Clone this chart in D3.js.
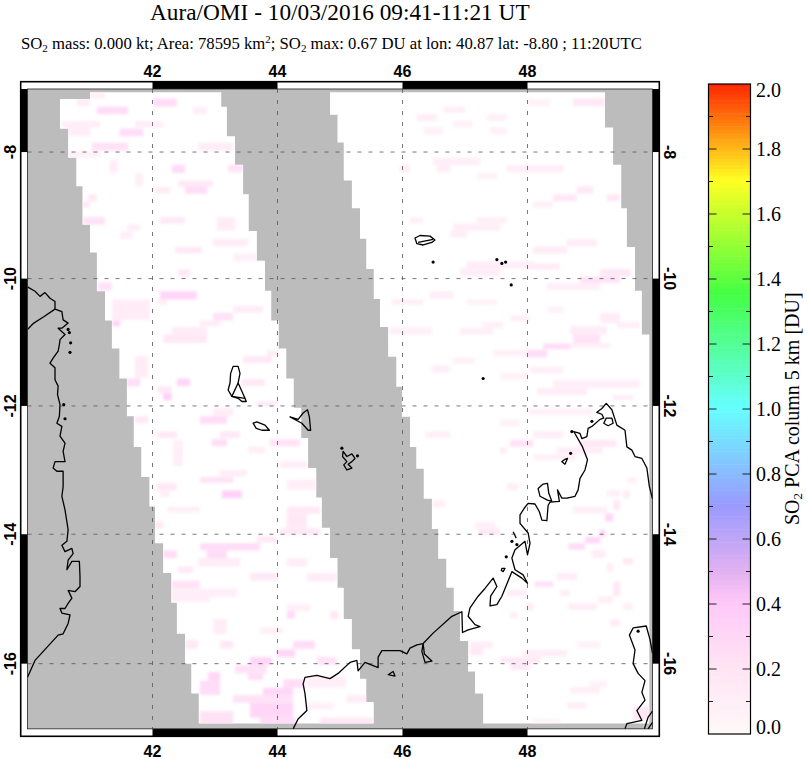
<!DOCTYPE html>
<html>
<head>
<meta charset="utf-8">
<script src="https://d3js.org/d3.v7.min.js"></script>
<style>
  body { margin: 0; background: #fff; }
  svg { display: block; }
  text { fill: #000; }
  .serif { font-family: "Liberation Serif", serif; }
  .sans { font-family: "Liberation Sans", sans-serif; font-weight: bold; font-size: 16px; }
</style>
</head>
<body>
<svg id="chart" width="807" height="759"></svg>
<script>
// Map ticks
var lonTicks = [42, 44, 46, 48];
var latTicks = [-8, -10, -12, -14, -16];
var lonBands = [[42, 44], [46, 48]];
var latBands = [[-7, -8], [-10, -12], [-14, -16]];

// Colorbar
var barTicks = [0, 0.2, 0.4, 0.6, 0.8, 1.0, 1.2, 1.4, 1.6, 1.8, 2.0];
var barMinorTicks = [0.1, 0.3, 0.5, 0.7, 0.9, 1.1, 1.3, 1.5, 1.7, 1.9];
var colorStops = [0, 0.2, 0.4, 0.5, 0.7, 1.0, 1.35, 1.7, 2.0];
var colorValues = ["#fff8f8", "#ffe4f4", "#ffc8f8", "#e0b0f0", "#9a9aff", "#66ffff", "#44ff44", "#ffff22", "#ff2200"];

// Swath edges: [lon of the step, lat where the step ends]
var swathTopLat = -7.05;
var swathALeft = [[41.00, -7.16], [40.52, -7.63], [40.65, -8.09], [40.78, -8.54], [40.88, -9.15], [41.00, -9.59], [41.11, -10.20], [41.24, -10.66], [41.35, -11.10], [41.47, -11.57], [41.59, -12.16], [41.70, -12.64], [41.82, -13.11], [41.95, -13.57], [42.04, -14.14], [42.17, -14.60], [42.30, -15.06], [42.39, -15.54], [42.52, -16.00], [42.62, -16.46], [42.74, -16.92]];
var swathARight = [[43.10, -7.28], [43.19, -7.75], [43.32, -8.20], [43.45, -8.67], [43.54, -9.25], [43.67, -9.72], [43.80, -10.19], [43.90, -10.66], [44.02, -11.10], [44.14, -11.57], [44.26, -12.03], [44.38, -12.50], [44.49, -12.97], [44.62, -13.43], [44.71, -13.90], [44.84, -14.37], [44.96, -14.83], [45.06, -15.31], [45.19, -15.78], [45.32, -16.23], [45.42, -16.59], [45.54, -16.92]];
var swathBLeft = [[44.84, -7.41], [44.96, -7.85], [45.06, -8.45], [45.19, -8.89], [45.32, -9.37], [45.42, -9.85], [45.54, -10.32], [45.64, -10.76], [45.77, -11.23], [45.90, -11.70], [45.99, -12.17], [46.12, -12.64], [46.22, -12.98], [46.34, -13.45], [46.47, -13.92], [46.57, -14.38], [46.70, -14.83], [46.82, -15.19], [46.92, -15.65], [47.05, -16.12], [47.16, -16.46], [47.29, -16.92]];
var swathBRight = [[49.24, -7.61], [49.37, -8.20], [49.50, -8.89], [49.59, -9.50], [49.72, -10.19], [49.83, -10.88], [49.95, -16.92]];

// SO2 pixels: [lonW, lonE, latN, latS, DU]
var cellsA = [
  [41.11, 41.61, -7.28, -7.40, 0.3], [40.79, 41.00, -7.15, -7.27, 0.15], [41.00, 41.24, -7.05, -7.15, 0.12], [42.01, 42.39, -7.15, -7.28, 0.3],
  [42.65, 42.87, -7.28, -7.40, 0.12], [40.55, 41.16, -7.51, -7.61, 0.15], [40.65, 41.00, -7.61, -7.74, 0.15], [41.47, 41.85, -7.63, -7.75, 0.3],
  [41.72, 42.17, -7.51, -7.61, 0.15], [41.03, 41.61, -7.85, -7.98, 0.25], [42.73, 43.29, -7.85, -7.98, 0.15], [41.32, 41.45, -8.12, -8.33, 0.15],
  [40.65, 41.16, -7.99, -8.09, 0.1], [42.31, 42.52, -8.20, -8.33, 0.3], [43.21, 43.45, -8.20, -8.32, 0.25], [42.41, 42.97, -8.45, -8.55, 0.2],
  [42.52, 42.87, -8.55, -8.66, 0.3], [42.04, 42.28, -8.55, -8.66, 0.15], [41.72, 41.85, -8.33, -8.54, 0.1], [40.97, 41.11, -8.67, -8.78, 0.2],
  [40.88, 41.00, -8.78, -8.88, 0.2], [40.89, 41.24, -9.03, -9.15, 0.25], [42.12, 42.52, -9.03, -9.13, 0.2], [43.03, 43.32, -9.03, -9.24, 0.15],
  [41.59, 41.80, -9.15, -9.24, 0.15], [41.47, 41.69, -9.26, -9.37, 0.12], [42.97, 43.53, -9.37, -9.49, 0.15], [42.36, 42.79, -9.50, -9.60, 0.2],
  [42.41, 42.60, -9.85, -9.97, 0.2], [43.29, 43.77, -9.60, -9.73, 0.1], [41.13, 41.35, -10.06, -10.19, 0.25],
  [42.12, 42.71, -10.20, -10.33, 0.35], [42.07, 42.23, -10.33, -10.41, 0.15], [41.35, 41.96, -10.33, -10.65, 0.15], [42.97, 43.29, -10.54, -10.66, 0.25],
  [43.29, 43.77, -10.43, -10.54, 0.15], [42.75, 43.08, -10.66, -10.75, 0.15], [41.36, 41.48, -10.66, -10.75, 0.4], [42.31, 42.87, -10.76, -10.88, 0.15],
  [42.17, 42.87, -10.88, -11.01, 0.2], [43.83, 44.01, -11.12, -11.22, 0.15], [43.45, 43.91, -11.22, -11.33, 0.2], [41.72, 41.93, -11.22, -11.56, 0.15],
  [41.59, 41.80, -11.57, -11.69, 0.3], [42.39, 42.60, -11.57, -11.69, 0.35], [42.07, 42.31, -11.69, -11.80, 0.2], [42.17, 42.31, -11.80, -11.91, 0.4],
  [43.43, 43.80, -11.58, -11.69, 0.2], [43.67, 43.99, -11.93, -12.00, 0.2], [41.72, 41.93, -12.16, -12.27, 0.2], [42.76, 43.19, -12.16, -12.28, 0.3],
  [42.97, 43.29, -12.03, -12.16, 0.15], [42.07, 42.39, -12.40, -12.50, 0.2], [43.08, 43.40, -12.40, -12.50, 0.2], [42.95, 43.19, -12.52, -12.63, 0.3],
  [43.88, 44.36, -12.52, -12.63, 0.25], [44.04, 44.47, -12.87, -12.97, 0.15], [43.53, 43.80, -12.63, -12.74, 0.12], [42.33, 42.49, -12.53, -12.94, 0.12],
  [42.76, 43.29, -13.11, -13.20, 0.25], [43.08, 43.51, -13.00, -13.10, 0.15], [42.07, 42.39, -13.20, -13.32, 0.2], [42.12, 42.28, -13.32, -13.42, 0.12],
  [43.11, 43.43, -13.32, -13.44, 0.4], [44.15, 44.63, -13.15, -13.31, 0.12], [44.15, 44.68, -13.57, -13.68, 0.2], [44.15, 44.47, -13.68, -13.91, 0.2],
  [42.23, 42.76, -13.57, -13.66, 0.12], [42.04, 42.17, -13.80, -13.91, 0.2],
  [44.04, 44.68, -13.91, -14.01, 0.2], [43.67, 43.99, -14.03, -14.13, 0.2], [42.76, 43.72, -14.14, -14.25, 0.3], [42.87, 43.19, -14.25, -14.37, 0.3],
  [42.17, 42.39, -14.25, -14.37, 0.3], [42.73, 43.40, -14.37, -14.50, 0.15], [42.41, 42.65, -14.50, -14.60, 0.2], [44.15, 44.47, -14.37, -14.50, 0.15],
  [42.31, 42.76, -14.72, -14.84, 0.25], [43.56, 43.99, -14.60, -14.72, 0.2], [44.47, 44.95, -14.60, -14.73, 0.15], [42.31, 42.92, -14.84, -15.05, 0.12],
  [42.92, 43.35, -14.84, -14.97, 0.12], [44.15, 44.28, -15.19, -15.31, 0.3], [44.15, 44.52, -15.08, -15.19, 0.12], [44.84, 44.97, -15.19, -15.31, 0.2],
  [42.97, 43.19, -15.31, -15.54, 0.15], [43.72, 44.09, -15.44, -15.54, 0.12], [42.52, 42.73, -15.64, -15.77, 0.2], [43.08, 43.29, -15.65, -15.77, 0.2],
  [44.25, 44.60, -15.65, -15.77, 0.3], [43.99, 44.28, -15.78, -15.90, 0.35], [43.56, 43.91, -15.90, -16.02, 0.35], [44.63, 44.95, -15.90, -16.02, 0.25],
  [43.32, 43.83, -16.02, -16.15, 0.25], [43.53, 43.77, -16.15, -16.25, 0.3], [42.89, 43.08, -16.13, -16.26, 0.35], [42.76, 43.08, -16.26, -16.48, 0.3],
  [44.09, 44.44, -16.24, -16.37, 0.3], [43.29, 44.25, -16.48, -16.60, 0.25], [43.77, 44.25, -16.37, -16.48, 0.35], [43.56, 44.25, -16.60, -16.83, 0.35],
  [42.76, 43.29, -16.73, -16.95, 0.25], [43.72, 44.29, -16.83, -16.95, 0.3], [44.68, 45.53, -16.83, -16.95, 0.2], [45.10, 45.43, -16.48, -16.60, 0.15],
  [44.47, 44.89, -16.60, -16.70, 0.1], [44.47, 45.10, -16.20, -16.37, 0.12]
];
var cellsB = [
  [48.73, 49.24, -7.15, -7.27, 0.2], [48.01, 48.36, -7.15, -7.27, 0.08], [46.65, 47.00, -7.28, -7.38, 0.12], [46.23, 46.55, -7.40, -7.51, 0.15],
  [47.35, 47.67, -7.40, -7.51, 0.1], [46.81, 47.13, -7.51, -7.61, 0.1], [46.33, 46.65, -7.61, -7.72, 0.1], [47.40, 47.67, -7.61, -7.72, 0.1],
  [46.49, 47.24, -8.09, -8.21, 0.12], [46.55, 46.76, -8.21, -8.32, 0.15], [45.96, 46.12, -8.21, -8.32, 0.15], [47.67, 48.57, -8.21, -8.32, 0.15],
  [47.19, 47.51, -8.33, -8.43, 0.08], [48.79, 49.05, -8.54, -8.66, 0.2], [48.41, 48.79, -8.67, -8.78, 0.2], [49.27, 49.48, -8.67, -8.78, 0.2],
  [48.09, 48.41, -8.78, -8.88, 0.1], [46.12, 46.33, -9.03, -9.13, 0.12], [47.19, 47.67, -9.03, -9.13, 0.12], [46.81, 47.56, -9.13, -9.25, 0.12],
  [46.76, 47.03, -9.25, -9.35, 0.15], [48.63, 49.11, -9.38, -9.49, 0.15], [48.09, 48.63, -9.49, -9.61, 0.15], [47.03, 48.09, -9.73, -9.84, 0.15],
  [46.92, 47.56, -9.84, -9.96, 0.15], [49.16, 49.64, -9.85, -9.97, 0.25], [48.36, 49.11, -10.07, -10.18, 0.12], [46.44, 46.81, -10.20, -10.32, 0.15],
  [46.01, 46.33, -10.32, -10.41, 0.1], [47.03, 47.51, -10.33, -10.41, 0.1], [47.72, 48.04, -10.57, -10.68, 0.1], [47.27, 47.61, -10.68, -10.78, 0.1],
  [46.92, 47.45, -10.78, -10.88, 0.12], [45.96, 46.33, -10.78, -10.88, 0.15], [47.45, 48.04, -11.12, -11.22, 0.1], [46.81, 47.16, -11.24, -11.34, 0.1],
  [46.47, 46.73, -11.36, -11.48, 0.15], [47.56, 47.99, -11.48, -11.59, 0.08],
  [49.16, 49.59, -9.86, -9.97, 0.2], [48.84, 49.48, -9.97, -10.07, 0.25], [48.31, 49.16, -10.07, -10.18, 0.12], [48.31, 48.57, -10.44, -10.54, 0.1],
  [49.16, 49.48, -10.54, -10.70, 0.15], [48.68, 49.27, -10.75, -10.88, 0.15], [49.43, 49.80, -10.68, -10.78, 0.12], [48.73, 49.16, -10.88, -11.02, 0.25],
  [48.25, 48.68, -11.02, -11.11, 0.3], [47.99, 48.31, -11.12, -11.24, 0.3], [48.68, 49.32, -11.02, -11.09, 0.12], [48.04, 48.57, -11.38, -11.49, 0.12],
  [48.41, 49.80, -11.59, -11.72, 0.12], [48.15, 48.95, -11.72, -11.83, 0.15], [49.37, 49.69, -11.83, -11.91, 0.15], [47.99, 48.52, -9.76, -9.86, 0.15],
  [45.83, 46.33, -10.32, -10.41, 0.12], [46.47, 46.76, -10.20, -10.31, 0.12], [45.79, 46.47, -10.77, -10.88, 0.12], [46.47, 46.76, -11.37, -11.48, 0.12],
  [46.36, 46.76, -12.40, -12.50, 0.12], [46.48, 46.68, -13.47, -13.58, 0.12],
  [48.01, 49.05, -12.04, -12.14, 0.1], [47.56, 47.88, -12.21, -12.32, 0.08], [48.09, 48.57, -12.40, -12.50, 0.15], [48.84, 49.43, -12.53, -12.64, 0.2],
  [47.72, 48.09, -12.53, -12.64, 0.25], [47.56, 47.67, -12.65, -12.74, 0.15], [48.47, 49.21, -12.65, -12.74, 0.15], [48.09, 48.79, -12.75, -12.85, 0.1],
  [49.59, 49.75, -13.11, -13.21, 0.1], [47.67, 47.85, -13.21, -13.31, 0.15], [49.27, 49.48, -13.31, -13.42, 0.1], [49.53, 49.64, -13.31, -13.44, 0.15],
  [49.37, 49.48, -13.47, -13.63, 0.2], [49.27, 49.37, -13.68, -13.78, 0.3], [48.73, 49.27, -13.57, -13.68, 0.12],
  [49.24, 49.37, -13.68, -13.80, 0.35], [48.92, 49.16, -14.04, -14.14, 0.35], [49.16, 49.24, -13.93, -14.04, 0.4], [48.65, 48.92, -14.14, -14.24, 0.3],
  [47.21, 47.56, -13.91, -14.01, 0.2], [47.16, 47.48, -13.81, -13.91, 0.12], [49.03, 49.24, -14.24, -14.37, 0.15], [49.53, 49.69, -14.37, -14.47, 0.2],
  [49.27, 49.37, -14.45, -14.58, 0.15], [48.47, 48.79, -14.60, -14.71, 0.15], [48.12, 48.41, -14.73, -14.82, 0.25], [49.37, 49.48, -14.73, -14.96, 0.2],
  [48.52, 48.68, -14.86, -14.96, 0.12], [47.67, 47.99, -14.86, -14.96, 0.15], [49.13, 49.37, -14.96, -15.07, 0.12], [47.99, 48.09, -15.07, -15.17, 0.2],
  [48.65, 49.11, -15.07, -15.17, 0.15], [47.72, 47.85, -15.20, -15.30, 0.12], [49.53, 49.69, -15.07, -15.17, 0.12], [49.32, 49.48, -15.32, -15.43, 0.15],
  [48.79, 49.16, -15.66, -15.76, 0.1], [47.08, 47.45, -15.66, -15.76, 0.15], [47.08, 47.29, -15.76, -15.87, 0.2], [47.93, 48.63, -15.79, -15.89, 0.15],
  [47.56, 48.20, -15.90, -15.99, 0.2], [47.72, 48.04, -15.99, -16.10, 0.2], [49.00, 49.27, -16.26, -16.36, 0.1], [48.68, 49.16, -16.36, -16.46, 0.12],
  [48.63, 48.95, -16.59, -16.69, 0.12], [48.07, 48.52, -16.85, -16.92, 0.08], [49.69, 49.96, -16.66, -16.87, 0.2]
];

// Coastlines as [lon, lat]
var africaCoast = [[40.00, -10.13], [40.12, -10.20], [40.20, -10.28], [40.28, -10.22], [40.36, -10.31], [40.44, -10.36], [40.44, -10.48], [40.55, -10.52], [40.57, -10.65], [40.65, -10.70], [40.55, -10.78], [40.49, -10.78], [40.60, -10.88], [40.52, -10.96], [40.51, -11.04], [40.49, -11.14], [40.41, -11.25], [40.36, -11.33], [40.44, -11.40], [40.44, -11.59], [40.49, -11.69], [40.48, -11.82], [40.52, -11.98], [40.51, -12.16], [40.47, -12.27], [40.55, -12.32], [40.52, -12.47], [40.60, -12.58], [40.57, -12.71], [40.60, -12.87], [40.44, -12.87], [40.41, -12.97], [40.47, -13.02], [40.57, -13.02], [40.57, -13.26], [40.55, -13.41], [40.60, -13.62], [40.65, -13.93], [40.63, -14.11], [40.55, -14.17], [40.60, -14.27], [40.71, -14.22], [40.73, -14.30], [40.65, -14.40], [40.63, -14.55], [40.71, -14.42], [40.83, -14.42], [40.84, -14.66], [40.84, -14.81], [40.76, -14.89], [40.65, -14.87], [40.71, -14.99], [40.65, -15.07], [40.60, -15.15], [40.52, -15.15], [40.55, -15.22], [40.68, -15.25], [40.65, -15.38], [40.57, -15.54], [40.49, -15.56], [40.31, -15.75], [40.12, -15.95], [40.00, -16.21]];
var riverBorder = [[40.44, -10.48], [40.26, -10.60], [40.10, -10.70], [40.00, -10.80]];
var madagascarNorth = [[50.00, -13.45], [49.95, -13.26], [49.91, -12.97], [49.83, -12.82], [49.72, -12.79], [49.67, -12.69], [49.59, -12.64], [49.56, -12.38], [49.43, -12.30], [49.35, -12.06], [49.26, -11.96], [49.19, -12.04], [49.11, -12.10], [49.19, -12.13], [49.22, -12.19], [49.16, -12.21], [49.03, -12.32], [48.97, -12.35], [48.95, -12.48], [48.87, -12.51], [48.84, -12.43], [48.74, -12.40], [48.88, -12.64], [48.94, -12.79], [48.96, -12.84], [48.92, -13.00], [48.84, -13.13], [48.81, -13.31], [48.76, -13.41], [48.63, -13.44], [48.55, -13.44], [48.48, -13.31], [48.51, -13.49], [48.36, -13.50], [48.33, -13.55], [48.31, -13.79], [48.23, -13.78], [48.19, -13.65], [48.12, -13.53], [48.01, -13.52], [47.96, -13.58], [47.88, -13.70], [47.88, -13.83], [48.01, -13.98], [48.04, -14.14], [48.00, -14.32], [47.96, -14.11], [47.80, -14.24], [47.75, -14.37], [47.80, -14.55], [47.93, -14.63], [48.00, -14.76], [47.91, -14.68], [47.75, -14.58], [47.59, -14.96], [47.51, -15.09], [47.40, -15.11], [47.41, -14.96], [47.51, -14.81], [47.45, -14.68], [47.32, -14.84], [47.21, -14.96], [47.08, -15.14], [47.05, -15.27], [47.16, -15.40], [47.24, -15.43], [47.05, -15.48], [46.96, -15.52], [46.95, -15.20], [46.79, -15.27], [46.49, -15.53], [46.33, -15.69], [46.31, -15.81], [46.36, -15.98], [46.47, -15.96], [46.35, -15.85], [46.33, -15.69], [46.23, -15.71], [46.12, -15.76], [46.07, -15.85], [45.96, -15.80], [45.67, -15.80], [45.61, -15.90], [45.61, -16.06], [45.40, -15.98], [45.29, -16.11], [45.27, -15.95], [45.16, -15.98], [44.97, -16.15], [44.84, -16.23], [44.63, -16.18], [44.44, -16.21], [44.41, -16.31], [44.44, -16.46], [44.47, -16.72], [44.33, -16.85], [44.25, -17.00]];
var madagascarEast = [[50.00, -15.84], [49.96, -15.63], [49.90, -15.42], [49.69, -15.45], [49.63, -15.56], [49.72, -15.79], [49.69, -16.00], [49.77, -16.15], [49.88, -16.26], [49.83, -16.44], [49.88, -16.56], [49.75, -16.72], [49.83, -16.87], [49.59, -16.92], [49.56, -17.00]];
var openLines = [
  [[50.00, -16.73], [49.93, -16.82], [49.87, -17.00]],
  [[50.00, -16.90], [49.93, -17.00]],
  [[43.37, -11.64], [43.27, -11.85], [43.48, -11.88]],
  [[46.25, -9.43], [46.39, -9.40], [46.49, -9.38]],
  [[47.77, -13.96], [47.82, -14.06]]
];
var islands = [
  [[43.29, -11.38], [43.37, -11.38], [43.40, -11.49], [43.37, -11.64], [43.48, -11.88], [43.50, -11.93], [43.43, -11.93], [43.37, -11.88], [43.27, -11.85], [43.21, -11.75], [43.24, -11.64], [43.25, -11.49]],
  [[43.61, -12.27], [43.67, -12.25], [43.80, -12.30], [43.87, -12.38], [43.75, -12.38], [43.66, -12.35]],
  [[44.20, -12.17], [44.33, -12.21], [44.41, -12.11], [44.48, -12.06], [44.51, -12.17], [44.53, -12.38], [44.49, -12.38], [44.39, -12.27]],
  [[45.05, -12.71], [45.11, -12.79], [45.19, -12.75], [45.24, -12.82], [45.19, -12.87], [45.13, -12.91], [45.19, -12.97], [45.11, -13.00], [45.06, -12.92], [45.11, -12.87], [45.04, -12.79]],
  [[46.20, -9.36], [46.28, -9.32], [46.44, -9.33], [46.52, -9.39], [46.47, -9.43], [46.33, -9.47], [46.23, -9.45]],
  [[45.77, -16.17], [45.85, -16.12], [45.88, -16.19]],
  [[47.59, -14.53], [47.64, -14.53], [47.61, -14.58], [47.58, -14.56]],
  [[49.26, -12.19], [49.35, -12.19], [49.37, -12.27], [49.29, -12.31], [49.22, -12.27]],
  [[48.17, -13.29], [48.25, -13.22], [48.32, -13.21], [48.34, -13.36], [48.39, -13.49], [48.32, -13.47], [48.20, -13.41]],
  [[48.55, -12.87], [48.60, -12.91], [48.64, -12.82], [48.59, -12.84]]
];
var islets = [[40.65, -10.80], [40.67, -10.85], [40.69, -11.01], [40.68, -11.16], [40.58, -11.98], [40.60, -12.20], [45.03, -12.66], [45.28, -12.78], [46.49, -9.74], [47.51, -9.70], [47.59, -9.76], [47.65, -9.74], [47.74, -10.10], [47.29, -11.57], [47.75, -14.11], [47.83, -14.16], [47.66, -14.35], [48.71, -12.40], [48.69, -12.74], [49.03, -12.24], [49.77, -15.50]];

var svg = d3.select("#chart");
var projection = d3.geoMercator()
  .center([40, -7])
  .translate([27.5, 89])
  .scale(62.5 * 180 / Math.PI);
var px = d => projection(d)[0];
var py = d => projection(d)[1];
// note: "top" is taken by window.top, so the map edges get their own names
var mapLeft = px([40, -7]), mapRight = px([50, -7]), mapTop = py([40, -7]), mapBottom = py([40, -17]);
var line = d3.line().x(px).y(py);

var colorScale = d3.scaleLinear().domain(colorStops).range(colorValues);

// turn step edges into one closed polygon
function swathPolygon(leftEdge, rightEdge) {
  var pts = [];
  var lat = swathTopLat;
  leftEdge.forEach(s => { pts.push([s[0], lat]); pts.push([s[0], s[1]]); lat = s[1]; });
  var rightPts = [];
  lat = swathTopLat;
  rightEdge.forEach(s => { rightPts.push([s[0], lat]); rightPts.push([s[0], s[1]]); lat = s[1]; });
  return pts.concat(rightPts.reverse());
}

// Grey background and swaths
svg.append("rect").attr("x", mapLeft).attr("y", mapTop).attr("width", mapRight - mapLeft).attr("height", mapBottom - mapTop).attr("fill", "#bcbcbc");
var swaths = [swathPolygon(swathALeft, swathARight), swathPolygon(swathBLeft, swathBRight)];
var defs = svg.append("defs");
defs.append("filter").attr("id", "soft").append("feGaussianBlur").attr("stdDeviation", 1.4);
defs.append("clipPath").attr("id", "swathClip").selectAll("path").data(swaths).join("path").attr("d", d => line(d) + "Z");
svg.selectAll(".swath").data(swaths).join("path").attr("class", "swath").attr("d", d => line(d) + "Z").attr("fill", "#fff");

// SO2 cells
svg.append("g").attr("clip-path", "url(#swathClip)")
  .append("g").attr("filter", "url(#soft)").attr("opacity", 0.85)
  .selectAll("rect").data(cellsA.concat(cellsB)).join("rect")
  .attr("x", d => px([d[0], d[2]]))
  .attr("y", d => py([d[0], d[2]]))
  .attr("width", d => px([d[1], d[2]]) - px([d[0], d[2]]))
  .attr("height", d => py([d[0], d[3]]) - py([d[0], d[2]]))
  .attr("fill", d => colorScale(d[4]));

// Grid lines
var grid = svg.append("g").attr("fill", "none").attr("stroke", "#555").attr("stroke-width", 0.8).attr("stroke-dasharray", "4 7");
grid.selectAll(".glon").data(lonTicks).join("path").attr("class", "glon").attr("d", d => line([[d, -7], [d, -17]]));
grid.selectAll(".glat").data(latTicks).join("path").attr("class", "glat").attr("d", d => line([[40, d], [50, d]]));

// Coast
var coast = svg.append("g").attr("fill", "none").attr("stroke", "#000").attr("stroke-width", 1.3).attr("stroke-linejoin", "round");
coast.selectAll(".open").data([africaCoast, riverBorder, madagascarNorth, madagascarEast].concat(openLines)).join("path").attr("class", "open").attr("d", line);
coast.selectAll(".ring").data(islands).join("path").attr("class", "ring").attr("d", d => line(d) + "Z");
svg.append("g").selectAll("circle").data(islets).join("circle")
  .attr("cx", px).attr("cy", py).attr("r", 1.6).attr("fill", "#000");

// Frame with the alternating bars
var frame = svg.append("g");
frame.append("rect").attr("x", 20.7).attr("y", 81.7).attr("width", 638.6).attr("height", 654.6).attr("fill", "none").attr("stroke", "#000").attr("stroke-width", 1.6);
lonBands.forEach(b => {
  [[81, mapTop], [mapBottom, 737]].forEach(r => {
    frame.append("rect").attr("x", px([b[0], -7])).attr("y", r[0]).attr("width", px([b[1], -7]) - px([b[0], -7])).attr("height", r[1] - r[0]).attr("fill", "#000");
  });
});
latBands.forEach(b => {
  [[20, mapLeft], [mapRight, 660]].forEach(r => {
    frame.append("rect").attr("x", r[0]).attr("y", py([40, b[0]])).attr("width", r[1] - r[0]).attr("height", py([40, b[1]]) - py([40, b[0]])).attr("fill", "#000");
  });
});
frame.append("rect").attr("x", mapLeft).attr("y", mapTop).attr("width", mapRight - mapLeft).attr("height", mapBottom - mapTop).attr("fill", "none").attr("stroke", "#222").attr("stroke-width", 0.8);

// Tick labels
svg.selectAll(".lonTop").data(lonTicks).join("text").attr("class", "sans lonTop").attr("text-anchor", "middle")
  .attr("x", d => px([d, -7])).attr("y", 77).text(d => d);
svg.selectAll(".lonBottom").data(lonTicks).join("text").attr("class", "sans lonBottom").attr("text-anchor", "middle")
  .attr("x", d => px([d, -7])).attr("y", 757).text(d => d);
svg.selectAll(".latLeft").data(latTicks).join("text").attr("class", "sans latLeft").attr("text-anchor", "middle")
  .attr("transform", d => "translate(16," + py([40, d]) + ") rotate(-90)").text(d => d);
svg.selectAll(".latRight").data(latTicks).join("text").attr("class", "sans latRight").attr("text-anchor", "middle")
  .attr("transform", d => "translate(664," + py([40, d]) + ") rotate(90)").text(d => d);

// Titles
svg.append("text").attr("class", "serif").attr("x", 150).attr("y", 20).attr("font-size", 23.3).text("Aura/OMI - 10/03/2016 09:41-11:21 UT");
var sub = svg.append("text").attr("class", "serif").attr("x", 21).attr("y", 49).attr("font-size", 16.7);
sub.append("tspan").text("SO");
sub.append("tspan").attr("dy", 3).attr("font-size", 11).text("2");
sub.append("tspan").attr("dy", -3).text(" mass: 0.000 kt; Area: 78595 km");
sub.append("tspan").attr("dy", -6).attr("font-size", 11).text("2");
sub.append("tspan").attr("dy", 6).text("; SO");
sub.append("tspan").attr("dy", 3).attr("font-size", 11).text("2");
sub.append("tspan").attr("dy", -3).text(" max: 0.67 DU at lon: 40.87 lat: -8.80 ; 11:20UTC");

// Colorbar
var barX0 = 708.5, barX1 = 750.5;
var barScale = d3.scaleLinear().domain([0, 2]).range([734, 84]);
var barSlices = d3.range(0, 2, 0.01);
svg.append("g").selectAll("rect").data(barSlices).join("rect")
  .attr("x", barX0).attr("width", barX1 - barX0)
  .attr("y", d => barScale(d + 0.01)).attr("height", d => barScale(d) - barScale(d + 0.01) + 0.5)
  .attr("fill", d => colorScale(d));
svg.append("rect").attr("x", barX0).attr("y", barScale(2)).attr("width", barX1 - barX0).attr("height", barScale(0) - barScale(2))
  .attr("fill", "none").attr("stroke", "#000").attr("stroke-width", 1.2);

var barTickMarks = svg.append("g").attr("stroke", "#222").attr("stroke-width", 1);
barTicks.slice(1, -1).forEach(v => {
  barTickMarks.append("line").attr("x1", barX0).attr("x2", barX0 + 8).attr("y1", barScale(v)).attr("y2", barScale(v));
  barTickMarks.append("line").attr("x1", barX1 - 8).attr("x2", barX1).attr("y1", barScale(v)).attr("y2", barScale(v));
});
barMinorTicks.forEach(v => {
  barTickMarks.append("line").attr("x1", barX0).attr("x2", barX0 + 4.5).attr("y1", barScale(v)).attr("y2", barScale(v));
  barTickMarks.append("line").attr("x1", barX1 - 4.5).attr("x2", barX1).attr("y1", barScale(v)).attr("y2", barScale(v));
});

// end labels sit inside the bar range
svg.selectAll(".barLabel").data(barTicks).join("text").attr("class", "serif barLabel").attr("font-size", 20)
  .attr("x", 756)
  .attr("y", d => barScale(d) + (d === 2 ? 13 : d === 0 ? 0 : 7))
  .text(d => d.toFixed(1));

var barTitle = svg.append("text").attr("class", "serif").attr("font-size", 20)
  .attr("transform", "translate(799,525) rotate(-90)");
barTitle.append("tspan").text("SO");
barTitle.append("tspan").attr("dy", 3).attr("font-size", 13).text("2");
barTitle.append("tspan").attr("dy", -3).text(" PCA column 5 km [DU]");
</script>
</body>
</html>
